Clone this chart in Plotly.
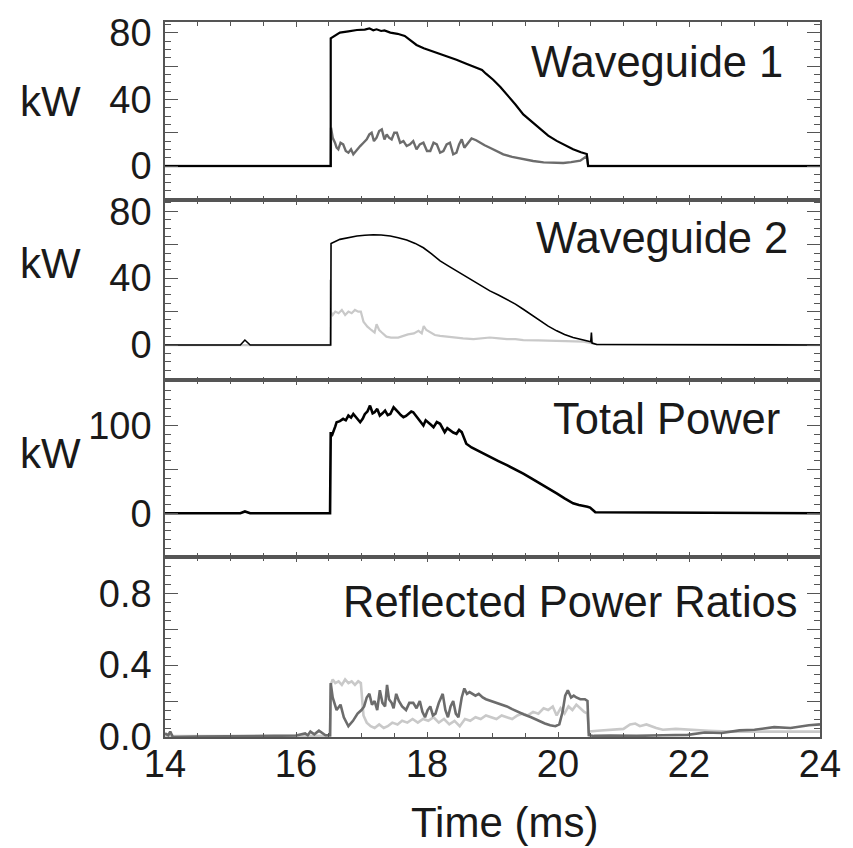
import plotly.graph_objects as go

# ---------------- data ----------------
# Panel 1: Waveguide 1 forward / reflected power (kW) vs time (ms)
WG1_FWD_T = [14.0, 16.53, 16.53, 16.60, 16.67, 16.80, 16.93, 17.05, 17.12, 17.18, 17.23, 17.30, 17.35, 17.44,
             17.55, 17.66, 17.75, 17.84, 17.95, 18.10, 18.25, 18.45, 18.60, 18.76, 18.84, 18.90, 19.01, 19.12,
             19.22, 19.35, 19.47, 19.60, 19.73, 19.85, 19.98, 20.10, 20.23, 20.35, 20.44, 20.46, 24.0]
WG1_FWD_V = [0, 0, 76.8, 78.5, 80.2, 81.0, 81.8, 82.0, 82.8, 81.6, 82.2, 81.2, 81.5, 80.2,
             79.5, 78.2, 75.5, 72.8, 70.8, 68.8, 66.5, 63.9, 61.5, 58.9, 57.8, 55.5, 51.9, 47.5,
             43.0, 37.0, 31.0, 26.5, 22.0, 18.3, 15.1, 12.5, 10.1, 8.3, 7.2, 0, 0]

WG1_REF_T = [14.0, 16.53, 16.535, 16.56, 16.595, 16.62, 16.646, 16.68, 16.72, 16.76, 16.80, 16.84, 16.875, 16.93,
             16.98, 17.03, 17.08, 17.12, 17.155, 17.19, 17.23, 17.27, 17.31, 17.35, 17.385, 17.42, 17.46, 17.50,
             17.54, 17.59, 17.64, 17.69, 17.74, 17.79, 17.84, 17.89, 17.945, 18.00, 18.05, 18.10, 18.15, 18.20,
             18.25, 18.30, 18.35, 18.40, 18.45, 18.49, 18.53, 18.57, 18.61, 18.65, 18.68, 18.75, 18.81, 18.88,
             18.96, 19.06, 19.165, 19.30, 19.47, 19.62, 19.78, 19.93, 20.08, 20.20, 20.34, 20.44, 20.46, 24.0]
WG1_REF_V = [0, 0, 23, 17, 14, 11, 10, 14, 13, 9, 8, 10, 7, 10,
             12, 14, 16, 19, 20, 15, 17, 21, 22, 16, 19, 17, 16, 20,
             20, 14, 15, 12, 13, 15, 10, 13, 14, 9, 9, 14, 13, 8,
             9, 13, 14, 7, 8, 13, 16, 11, 13, 15, 16.6, 15.5, 14, 12.5,
             11, 9, 7, 5.5, 4, 3, 2.2, 1.8, 1.8, 2.3, 3.2, 6, 0, 0]

# Panel 2: Waveguide 2 forward / reflected power (kW)
WG2_FWD_T = [14.0, 15.15, 15.22, 15.30, 16.53, 16.535, 16.67, 16.80, 16.93, 17.05, 17.18, 17.30, 17.44, 17.56,
             17.69, 17.82, 17.945, 18.07, 18.20, 18.33, 18.45, 18.58, 18.71, 18.84, 18.96, 19.09, 19.22, 19.35,
             19.47, 19.60, 19.72, 19.85, 19.98, 20.10, 20.23, 20.34, 20.44, 20.50, 20.51, 20.52, 20.59, 24.0]
WG2_FWD_V = [0, 0, 3, 0, 0, 60.8, 63.2, 64.3, 65.2, 65.7, 66.0, 65.8, 65.2, 64.2,
             62.8, 60.8, 58.2, 54.5, 50.3, 47.2, 44.3, 41.3, 38.3, 35.3, 32.4, 29.9, 27.4, 24.5,
             21.4, 17.8, 14.4, 11.3, 8.5, 6.3, 4.5, 3.3, 2.5, 2.0, 7.5, 1.2, 0.3, 0]

WG2_REF_T = [14.0, 16.52, 16.525, 16.53, 16.56, 16.60, 16.65, 16.70, 16.75, 16.80, 16.85, 16.90, 16.95, 16.99,
             17.03, 17.09, 17.15, 17.20, 17.23, 17.27, 17.31, 17.38, 17.45, 17.56, 17.64, 17.71, 17.80, 17.87,
             17.92, 17.95, 17.99, 18.05, 18.12, 18.20, 18.30, 18.45, 18.55, 18.71, 18.85, 18.96, 19.10, 19.22,
             19.35, 19.47, 19.70, 19.98, 20.20, 20.39, 20.59, 24.0]
WG2_REF_V = [0, 0, 39, 20, 18, 20, 19, 21, 18, 20, 19, 21, 20, 20,
             14, 11, 9, 7.5, 12.4, 9, 7.5, 5, 4.5, 4.5, 5.5, 6.4, 7, 8.5,
             7, 11.4, 9, 7.5, 6, 5.5, 5, 4.5, 4, 3.5, 4, 4.5, 4, 3.5,
             3.5, 3, 2.8, 2.5, 2.2, 2, 0.5, 0]

# Panel 3: total power (kW)
TOT_T = [14.0, 15.15, 15.22, 15.30, 16.52, 16.525, 16.53, 16.545, 16.57, 16.60, 16.62, 16.67, 16.72, 16.76,
         16.80, 16.84, 16.875, 16.93, 16.98, 17.02, 17.05, 17.09, 17.13, 17.17, 17.20, 17.24, 17.28, 17.32,
         17.36, 17.40, 17.44, 17.49, 17.53, 17.56, 17.60, 17.64, 17.68, 17.72, 17.76, 17.79, 17.83, 17.87,
         17.91, 17.945, 17.98, 18.02, 18.06, 18.10, 18.15, 18.20, 18.24, 18.27, 18.31, 18.35, 18.40, 18.45,
         18.49, 18.53, 18.57, 18.60, 18.68, 18.76, 18.86, 18.96, 19.09, 19.22, 19.35, 19.47, 19.60, 19.73,
         19.85, 19.98, 20.10, 20.23, 20.32, 20.39, 20.45, 20.49, 20.53, 20.57, 24.0]
TOT_V = [0, 0, 2, 0, 0, 39.6, 92.5, 88, 94.4, 99, 103.8, 105, 107.6, 106,
         111.4, 109, 113.2, 108, 103.8, 108, 113, 116, 122.8, 114, 115.2, 119, 111.4, 114,
         117.1, 112, 113.2, 120.8, 117, 115.2, 112, 109.5, 111, 113.2, 116, 115.2, 111, 107.6,
         104, 100, 106, 103.8, 101, 98.2, 104, 102, 96, 92.5, 97, 94.4, 92, 90.6,
         95, 92.5, 84, 79.3, 75, 71.8, 68, 64.2, 59.5, 54.8, 50, 45.3, 39.5, 34,
         28, 22.6, 17, 11.3, 9.5, 8.7, 7.5, 6.5, 4, 1.1, 0]

# Panel 4: reflected power ratios
RATIO2_T = [14.0, 14.5, 15.0, 15.5, 16.0, 16.3, 16.52, 16.53, 16.56, 16.60, 16.65, 16.70, 16.75, 16.80,
            16.85, 16.90, 16.95, 16.99, 17.03, 17.08, 17.14, 17.20, 17.27, 17.34, 17.40, 17.47, 17.55, 17.62,
            17.70, 17.78, 17.86, 17.94, 18.02, 18.10, 18.18, 18.26, 18.34, 18.42, 18.50, 18.58, 18.66, 18.74,
            18.82, 18.90, 18.98, 19.06, 19.14, 19.22, 19.30, 19.38, 19.46, 19.54, 19.62, 19.70, 19.78, 19.85,
            19.92, 19.98, 20.04, 20.10, 20.16, 20.22, 20.28, 20.34, 20.40, 20.45, 20.47, 20.6, 20.8, 21.0,
            21.1, 21.18, 21.25, 21.35, 21.50, 21.6, 21.8, 22.0, 22.3, 22.6, 23.0, 23.4, 23.8, 24.0]
RATIO2_V = [0.005, 0.004, 0.005, 0.004, 0.005, 0.006, 0.005, 0.29, 0.32, 0.30, 0.31, 0.29, 0.32, 0.30,
            0.31, 0.29, 0.31, 0.30, 0.12, 0.08, 0.06, 0.05, 0.07, 0.05, 0.06, 0.08, 0.07, 0.09,
            0.08, 0.10, 0.08, 0.10, 0.09, 0.11, 0.08, 0.10, 0.07, 0.09, 0.06, 0.10, 0.09, 0.11,
            0.10, 0.12, 0.11, 0.10, 0.12, 0.11, 0.10, 0.12, 0.13, 0.12, 0.14, 0.13, 0.16, 0.15,
            0.17, 0.12, 0.16, 0.13, 0.17, 0.15, 0.18, 0.16, 0.14, 0.13, 0.03, 0.035, 0.04, 0.045,
            0.07, 0.075, 0.06, 0.07, 0.05, 0.04, 0.045, 0.04, 0.035, 0.03, 0.03, 0.03, 0.03, 0.03]

RATIO1_T = [14.0, 14.05, 14.08, 14.12, 14.5, 14.9, 15.3, 15.7, 16.0, 16.14, 16.18, 16.22, 16.28, 16.35,
            16.45, 16.52, 16.53, 16.56, 16.62, 16.68, 16.73, 16.80, 16.87, 16.94, 17.00, 17.04, 17.08, 17.12,
            17.16, 17.20, 17.24, 17.28, 17.32, 17.36, 17.39, 17.42, 17.46, 17.49, 17.53, 17.57, 17.62, 17.68,
            17.73, 17.79, 17.84, 17.89, 17.93, 17.97, 18.01, 18.05, 18.09, 18.13, 18.18, 18.24, 18.28, 18.32,
            18.36, 18.40, 18.44, 18.48, 18.53, 18.57, 18.61, 18.65, 18.69, 18.74, 18.79, 18.85, 18.90, 18.98,
            19.06, 19.14, 19.22, 19.30, 19.38, 19.48, 19.59, 19.70, 19.80, 19.88, 19.96, 20.02, 20.07, 20.11,
            20.15, 20.20, 20.24, 20.28, 20.34, 20.41, 20.45, 20.47, 20.55, 20.8, 21.2, 21.6, 21.98, 22.24,
            22.5, 22.77, 23.0, 23.30, 23.55, 23.83, 24.0]
RATIO1_V = [0.02, 0.01, 0.03, 0.0, 0.003, 0.005, 0.004, 0.005, 0.008, 0.02, 0.01, 0.03, 0.015, 0.035,
            0.01, 0.01, 0.30, 0.22, 0.15, 0.18, 0.11, 0.06, 0.09, 0.13, 0.15, 0.17, 0.22, 0.24,
            0.18, 0.20, 0.15, 0.26, 0.19, 0.17, 0.29, 0.21, 0.19, 0.16, 0.24, 0.20, 0.17, 0.15,
            0.19, 0.19, 0.16, 0.20, 0.14, 0.11, 0.15, 0.17, 0.12, 0.13, 0.19, 0.24, 0.15, 0.11,
            0.17, 0.20, 0.13, 0.11, 0.22, 0.27, 0.24, 0.25, 0.24, 0.23, 0.24, 0.22, 0.21, 0.20,
            0.19, 0.18, 0.17, 0.155, 0.14, 0.125, 0.11, 0.09, 0.075, 0.065, 0.06, 0.07, 0.14, 0.23,
            0.26, 0.22, 0.23, 0.22, 0.21, 0.21, 0.20, 0.01, 0.006, 0.008, 0.006, 0.01, 0.012, 0.025,
            0.022, 0.037, 0.04, 0.055, 0.05, 0.065, 0.07]

X_TICKS = [14, 16, 18, 20, 22, 24]
PANEL_LABELS = ["Waveguide 1", "Waveguide 2", "Total Power", "Reflected Power Ratios"]
Y_TICKS = [
    ([-20, 0, 20, 40, 60, 80], ["", "0", "", "40", "", "80"], 5, [-20.3, 86.6]),
    ([-20, 0, 20, 40, 60, 80], ["", "0", "", "40", "", "80"], 5, [-21.2, 86.9]),
    ([-50, 0, 50, 100, 150], ["", "0", "", "100", ""], 10, [-50.2, 151.4]),
    ([0, 0.2, 0.4, 0.6, 0.8, 1.0], ["0.0", "", "0.4", "", "0.8", ""], 0.05, [0, 1.0]),
]

# ---------------- styling ----------------
BLACK = "#000000"
DARK = "#6c6c6c"
LIGHT = "#c9c9c9"
AXIS = "#555555"
TXT = "#1a1a1a"
FONT = "Liberation Sans, Arial, sans-serif"

W, H = 853, 848
ML, MR, MT, MB = 165, 33, 17, 111
PH = H - MT - MB
# panel pixel edges (top, bottom) from the top of the figure
EDGES = [(17, 196), (196, 378), (378, 556), (556, 737)]


def dom(top, bot):
    return [(H - MB - bot) / PH, (H - MB - top) / PH]


fig = go.Figure()

series = [
    (WG1_REF_T, WG1_REF_V, DARK, 2.4, 1),
    (WG1_FWD_T, WG1_FWD_V, BLACK, 2.2, 1),
    (WG2_REF_T, WG2_REF_V, LIGHT, 2.2, 2),
    (WG2_FWD_T, WG2_FWD_V, BLACK, 1.6, 2),
    (TOT_T, TOT_V, BLACK, 2.6, 3),
    (RATIO2_T, RATIO2_V, LIGHT, 2.6, 4),
    (RATIO1_T, RATIO1_V, DARK, 2.6, 4),
]
for t, v, c, w, p in series:
    fig.add_trace(go.Scatter(x=t, y=v, mode="lines", line=dict(color=c, width=w),
                             xaxis="x" if p == 1 else f"x{p}", yaxis="y" if p == 1 else f"y{p}",
                             showlegend=False, hoverinfo="skip"))

layout = dict(width=W, height=H, margin=dict(l=ML, r=MR, t=MT, b=MB),
              paper_bgcolor="white", plot_bgcolor="white", showlegend=False,
              font=dict(family=FONT, color=TXT))

for i in range(4):
    p = i + 1
    xa = "xaxis" if p == 1 else f"xaxis{p}"
    ya = "yaxis" if p == 1 else f"yaxis{p}"
    yref = "y" if p == 1 else f"y{p}"
    xref = "x" if p == 1 else f"x{p}"
    layout[xa] = dict(domain=[0, 1], anchor=yref, range=[14, 24],
                      tickmode="array", tickvals=X_TICKS, ticktext=[str(v) for v in X_TICKS],
                      showticklabels=(p == 4), ticks="inside", ticklen=5, tickwidth=1.3, tickcolor=AXIS,
                      minor=dict(dtick=0.5, tick0=14, ticks="inside", ticklen=4, tickwidth=1.3, tickcolor=AXIS),
                      showline=True, linecolor=AXIS, linewidth=1.6, mirror="allticks",
                      showgrid=False, zeroline=False,
                      tickfont=dict(size=38, family=FONT, color=TXT), ticklabelstandoff=-7)
    tv, tt, mdt, rng = Y_TICKS[i]
    layout[ya] = dict(domain=dom(*EDGES[i]), anchor=xref, range=rng,
                      tickmode="array", tickvals=tv, ticktext=tt,
                      ticks="inside", ticklen=13, tickwidth=1.3, tickcolor=AXIS,
                      minor=dict(dtick=mdt, tick0=0, ticks="inside", ticklen=6, tickwidth=1.3, tickcolor=AXIS),
                      showline=True, linecolor=AXIS, linewidth=1.6, mirror="allticks",
                      showgrid=False, zeroline=False,
                      tickfont=dict(size=38, family=FONT, color=TXT), ticklabelstandoff=4)

fig.update_layout(**layout)


def px_x(x):
    return (x - ML) / (W - ML - MR)


def px_y(y):
    return (H - MB - y) / PH


ann = []
# panel titles (right edge, vertical centre in pixels)
title_pos = [(785, 57), (790, 235), (782, 417), (800, 601)]
for txt, (rx, cy) in zip(PANEL_LABELS, title_pos):
    ann.append(dict(text=txt, x=px_x(rx), y=px_y(cy), xref="paper", yref="paper",
                    xanchor="right", yanchor="middle", showarrow=False,
                    font=dict(size=43.5, family=FONT, color=TXT)))
for cy in [97, 260, 452]:
    ann.append(dict(text="kW", x=px_x(50), y=px_y(cy), xref="paper", yref="paper",
                    xanchor="center", yanchor="middle", showarrow=False,
                    font=dict(size=42, family=FONT, color=TXT)))
ann.append(dict(text="Time (ms)", x=px_x(504), y=px_y(823), xref="paper", yref="paper",
                xanchor="center", yanchor="middle", showarrow=False,
                font=dict(size=42, family=FONT, color=TXT)))
fig.update_layout(annotations=ann)

fig.write_html("out.html")
